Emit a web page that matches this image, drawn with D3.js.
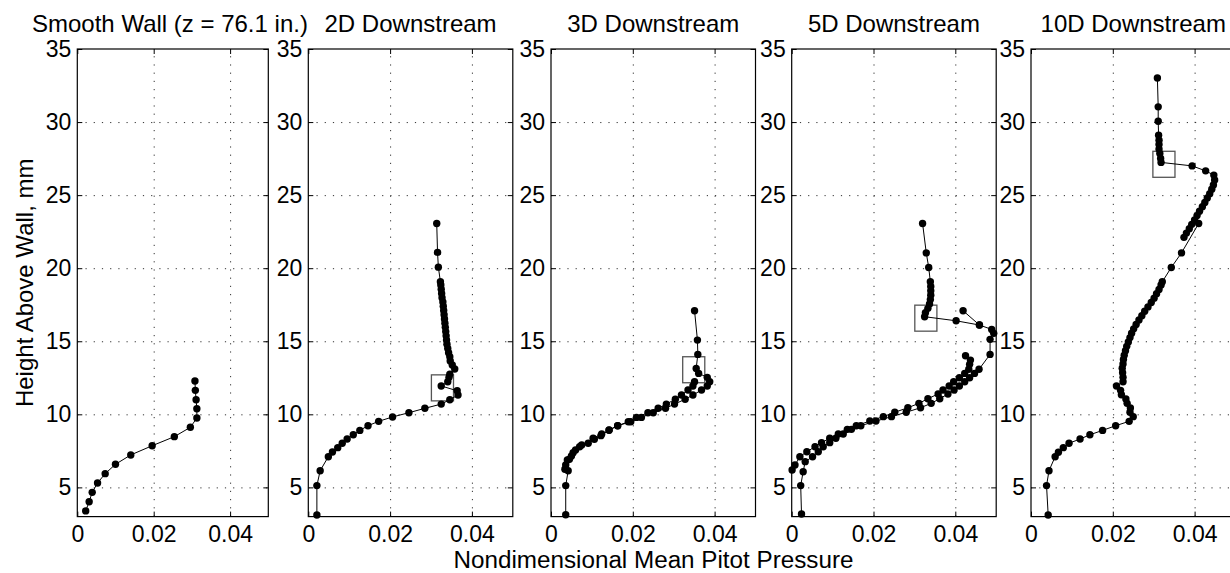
<!DOCTYPE html>
<html>
<head>
<meta charset="utf-8">
<script src="https://cdn.jsdelivr.net/npm/d3@7"></script>
<style>
  body { margin: 0; background: #fff; }
  svg text { font-family: "Liberation Sans", Arial, Helvetica, sans-serif; fill: #000; }
</style>
</head>
<body>
<svg id="chart" width="1230" height="573"></svg>
<script>
// ---- chart text and ticks ----
const panelTitles = ["Smooth Wall (z = 76.1 in.)", "2D Downstream", "3D Downstream", "5D Downstream", "10D Downstream"];
const xTicks = [0, 0.02, 0.04];
const yTicks = [5, 10, 15, 20, 25, 30, 35];
const xLabel = "Nondimensional Mean Pitot Pressure";
const yLabel = "Height Above Wall, mm";

// ---- profiles: [nondimensional pitot pressure, height above wall (mm)] ----
const smoothWall = [
  [0.0022, 3.39], [0.0031, 4.02], [0.0039, 4.66], [0.0053, 5.30], [0.0073, 5.94],
  [0.0100, 6.58], [0.0140, 7.22], [0.0196, 7.85], [0.0254, 8.47], [0.0296, 9.11],
  [0.0313, 9.75], [0.0313, 10.38], [0.0311, 11.00], [0.0309, 11.64], [0.0308, 12.28]
];

const down2D = [
  [0.0021, 3.11], [0.0021, 5.12], [0.0029, 6.14], [0.0049, 7.10], [0.0059, 7.42],
  [0.0072, 7.72], [0.0083, 8.02], [0.0095, 8.31], [0.0110, 8.60], [0.0126, 8.90],
  [0.0146, 9.22], [0.0172, 9.52], [0.0206, 9.82], [0.0246, 10.11], [0.0285, 10.41],
  [0.0325, 10.70], [0.0346, 11.00], [0.0366, 11.32], [0.0364, 11.61], [0.0325, 11.94],
  [0.0341, 12.23], [0.0344, 12.53], [0.0346, 12.75], [0.0358, 13.10], [0.0352, 13.37],
  [0.0347, 13.65], [0.0346, 13.94], [0.0343, 14.22], [0.0341, 14.50], [0.0339, 14.80],
  [0.0338, 15.08], [0.0337, 15.37], [0.0336, 15.66], [0.0335, 15.95], [0.0334, 16.24],
  [0.0333, 16.53], [0.0332, 16.82], [0.0331, 17.10], [0.0330, 17.40], [0.0329, 17.69],
  [0.0327, 17.98], [0.0326, 18.27], [0.0325, 18.56], [0.0324, 18.85], [0.0323, 19.07],
  [0.0318, 20.07], [0.0316, 21.08], [0.0314, 23.06]
];

const down3D_a = [
  [0.0036, 3.13], [0.0036, 5.12], [0.0042, 6.14], [0.0040, 6.87], [0.0054, 7.37],
  [0.0075, 7.90], [0.0103, 8.36], [0.0124, 8.65], [0.0142, 8.91], [0.0163, 9.22],
  [0.0195, 9.49], [0.0221, 9.79], [0.0250, 10.11], [0.0280, 10.41], [0.0302, 10.70],
  [0.0328, 11.03], [0.0347, 11.32], [0.0368, 11.66], [0.0382, 11.94], [0.0388, 12.23],
  [0.0382, 12.53], [0.0361, 12.80], [0.0355, 13.14], [0.0359, 14.10], [0.0358, 15.08],
  [0.0351, 17.09]
];
const down3D_b = [
  [0.0034, 6.24], [0.0036, 6.53], [0.0045, 6.92], [0.0050, 7.15], [0.0060, 7.56],
  [0.0070, 7.78], [0.0091, 8.02], [0.0106, 8.29], [0.0122, 8.54], [0.0142, 8.93],
  [0.0163, 9.22], [0.0189, 9.49], [0.0209, 9.79], [0.0237, 10.11], [0.0262, 10.41],
  [0.0282, 10.70], [0.0304, 11.03], [0.0319, 11.32], [0.0335, 11.66], [0.0347, 11.94],
  [0.0351, 12.23]
];

const down5D_a = [
  [0.0024, 3.18], [0.0022, 5.12], [0.0028, 6.07], [0.0033, 6.76], [0.0051, 7.10],
  [0.0065, 7.44], [0.0077, 7.78], [0.0093, 8.06], [0.0108, 8.36], [0.0126, 8.65],
  [0.0146, 8.97], [0.0169, 9.22], [0.0206, 9.54], [0.0244, 9.84], [0.0280, 10.14],
  [0.0315, 10.45], [0.0341, 10.75], [0.0362, 11.07], [0.0382, 11.39], [0.0397, 11.66],
  [0.0410, 11.94], [0.0423, 12.23], [0.0435, 12.50], [0.0447, 12.80], [0.0458, 13.08],
  [0.0485, 14.10], [0.0485, 15.13], [0.0494, 15.54], [0.0489, 15.81], [0.0459, 16.11],
  [0.0402, 16.40], [0.0325, 16.68], [0.0327, 16.95], [0.0333, 17.25], [0.0337, 17.55],
  [0.0339, 17.85], [0.0340, 18.15], [0.0340, 18.45], [0.0340, 18.75], [0.0339, 19.07],
  [0.0335, 20.05], [0.0329, 21.05], [0.0320, 23.06]
];
const down5D_b = [
  [0.0001, 6.19], [0.0008, 6.53], [0.0020, 7.10], [0.0037, 7.44], [0.0057, 7.78],
  [0.0073, 8.06], [0.0093, 8.36], [0.0114, 8.65], [0.0136, 8.97], [0.0158, 9.22],
  [0.0191, 9.54], [0.0224, 9.84], [0.0252, 10.14], [0.0284, 10.45], [0.0311, 10.75],
  [0.0333, 11.07], [0.0358, 11.39], [0.0370, 11.66], [0.0385, 11.94], [0.0396, 12.23],
  [0.0410, 12.50], [0.0423, 12.80], [0.0433, 13.08], [0.0435, 13.42], [0.0437, 13.71],
  [0.0425, 14.01]
];
const down5D_c = [[0.0419, 17.09], [0.0459, 16.11]];

const down10D_a = [
  [0.0042, 3.11], [0.0038, 5.12], [0.0044, 6.14], [0.0059, 7.10], [0.0067, 7.40],
  [0.0079, 7.72], [0.0093, 8.02], [0.0120, 8.31], [0.0144, 8.60], [0.0175, 8.90],
  [0.0207, 9.22], [0.0240, 9.52], [0.0250, 9.84], [0.0242, 10.14], [0.0243, 10.43],
  [0.0235, 10.75], [0.0232, 11.05], [0.0221, 11.34], [0.0219, 11.64], [0.0209, 11.94],
  [0.0225, 12.23], [0.0225, 12.53], [0.0224, 12.85], [0.0223, 13.15], [0.0225, 13.45],
  [0.0226, 13.75], [0.0228, 14.05], [0.0231, 14.35], [0.0234, 14.65], [0.0238, 14.95],
  [0.0242, 15.25], [0.0246, 15.55], [0.0251, 15.85], [0.0257, 16.15], [0.0264, 16.45],
  [0.0271, 16.75], [0.0278, 17.05], [0.0286, 17.35], [0.0294, 17.65], [0.0301, 17.95],
  [0.0307, 18.25], [0.0313, 18.55], [0.0318, 18.85], [0.0321, 19.07], [0.0343, 20.05],
  [0.0368, 21.05], [0.0410, 23.06]
];
const down10D_b = [
  [0.0374, 22.11], [0.0380, 22.40], [0.0387, 22.70], [0.0393, 23.00], [0.0400, 23.30],
  [0.0406, 23.60], [0.0412, 23.90], [0.0419, 24.20], [0.0425, 24.50], [0.0431, 24.80],
  [0.0437, 25.10], [0.0442, 25.40], [0.0446, 25.70], [0.0449, 26.03], [0.0447, 26.37],
  [0.0427, 26.66], [0.0394, 27.00], [0.0318, 27.24], [0.0317, 27.51], [0.0315, 27.85],
  [0.0313, 28.15], [0.0313, 28.46], [0.0313, 28.76], [0.0312, 29.10], [0.0311, 30.06],
  [0.0311, 31.04], [0.0309, 33.02]
];

// highlighted measurement locations (box centres)
const boxCenters = [null, [0.0328, 11.81], [0.0349, 13.05], [0.0328, 16.58], [0.0325, 27.11]];
const boxHalfSize = [0.0027, 0.89];

const profiles = [
  [smoothWall],
  [down2D],
  [down3D_a, down3D_b],
  [down5D_a, down5D_b, down5D_c],
  [down10D_a, down10D_b]
];

// ---- layout ----
const svg = d3.select("#chart");
const panelLeft = [77.3, 308.3, 551, 791.7, 1031];
const panelWidth = [191, 204.5, 204.5, 204.5, 204.5];
const plotTop = 49, plotBottom = 516.6;
const fontSize = 24, tickFontSize = 23;

const y = d3.scaleLinear().domain([3, 35]).range([plotBottom, plotTop]);

function styleTicks(sel) {
  sel.select(".domain").remove();
  sel.selectAll(".tick line").attr("stroke", "#000").attr("stroke-width", 1);
  sel.attr("font-family", null).attr("font-size", tickFontSize);
}

profiles.forEach((traverses, i) => {
  const x = d3.scaleLinear().domain([0, 0.05]).range([panelLeft[i], panelLeft[i] + panelWidth[i]]);
  const g = svg.append("g").attr("class", "panel");
  const w = panelWidth[i], h = plotBottom - plotTop;

  // dotted grid
  g.append("g")
    .attr("transform", `translate(0,${plotBottom})`)
    .call(d3.axisBottom(x).tickValues(xTicks.filter(v => v > 0)).tickSize(-h).tickFormat(""))
    .call(s => { s.select(".domain").remove(); s.selectAll("line").attr("stroke", "#333").attr("stroke-dasharray", "1.2,7"); });
  g.append("g")
    .attr("transform", `translate(${x(0)},0)`)
    .call(d3.axisLeft(y).tickValues(yTicks.filter(v => v < 35)).tickSize(-w).tickFormat(""))
    .call(s => { s.select(".domain").remove(); s.selectAll("line").attr("stroke", "#333").attr("stroke-dasharray", "1.2,7"); });

  // axes with inward ticks
  g.append("g")
    .attr("transform", `translate(0,${plotBottom})`)
    .call(d3.axisBottom(x).tickValues(xTicks).tickSizeInner(-5).tickSizeOuter(0).tickPadding(9).tickFormat(d3.format("~g")))
    .call(styleTicks);
  g.append("g")
    .attr("transform", `translate(0,${plotTop})`)
    .call(d3.axisTop(x).tickValues(xTicks).tickSizeInner(-5).tickSizeOuter(0).tickFormat(""))
    .call(styleTicks);
  g.append("g")
    .attr("transform", `translate(${x(0)},0)`)
    .call(d3.axisLeft(y).tickValues(yTicks).tickSizeInner(-5).tickSizeOuter(0).tickPadding(6).tickFormat(d3.format("d")))
    .call(styleTicks);
  g.append("g")
    .attr("transform", `translate(${x(0.05)},0)`)
    .call(d3.axisRight(y).tickValues(yTicks).tickSizeInner(-5).tickSizeOuter(0).tickFormat(""))
    .call(styleTicks);

  // frame
  g.append("rect")
    .attr("x", x(0)).attr("y", plotTop).attr("width", w).attr("height", h)
    .attr("fill", "none").attr("stroke", "#000").attr("stroke-width", 1.2);

  // highlighted box
  const bc = boxCenters[i];
  if (bc) {
    g.append("rect")
      .attr("x", x(bc[0] - boxHalfSize[0]))
      .attr("y", y(bc[1] + boxHalfSize[1]))
      .attr("width", x(bc[0] + boxHalfSize[0]) - x(bc[0] - boxHalfSize[0]))
      .attr("height", y(bc[1] - boxHalfSize[1]) - y(bc[1] + boxHalfSize[1]))
      .attr("fill", "none").attr("stroke", "#555").attr("stroke-width", 1.3);
  }

  // profile lines and markers
  const line = d3.line().x(d => x(d[0])).y(d => y(d[1]));
  traverses.forEach(t => {
    g.append("path").datum(t).attr("d", line)
      .attr("fill", "none").attr("stroke", "#000").attr("stroke-width", 1);
  });
  traverses.forEach(t => {
    g.selectAll(null).data(t).enter().append("circle")
      .attr("cx", d => x(d[0])).attr("cy", d => y(d[1])).attr("r", 3.7)
      .attr("fill", "#000");
  });

  // panel title (the first one is left-aligned, the rest centred over their panel)
  svg.append("text")
    .attr("x", i === 0 ? 32 : x(0.025)).attr("y", 32)
    .attr("text-anchor", i === 0 ? "start" : "middle")
    .attr("font-size", fontSize)
    .text(panelTitles[i]);
});

// shared axis labels
svg.append("text")
  .attr("x", 653.5).attr("y", 568)
  .attr("text-anchor", "middle").attr("font-size", tickFontSize)
  .attr("textLength", 400).attr("lengthAdjust", "spacingAndGlyphs")
  .text(xLabel);
svg.append("text")
  .attr("transform", `translate(33,${(plotTop + plotBottom) / 2}) rotate(-90)`)
  .attr("text-anchor", "middle").attr("font-size", fontSize)
  .text(yLabel);
</script>
</body>
</html>
